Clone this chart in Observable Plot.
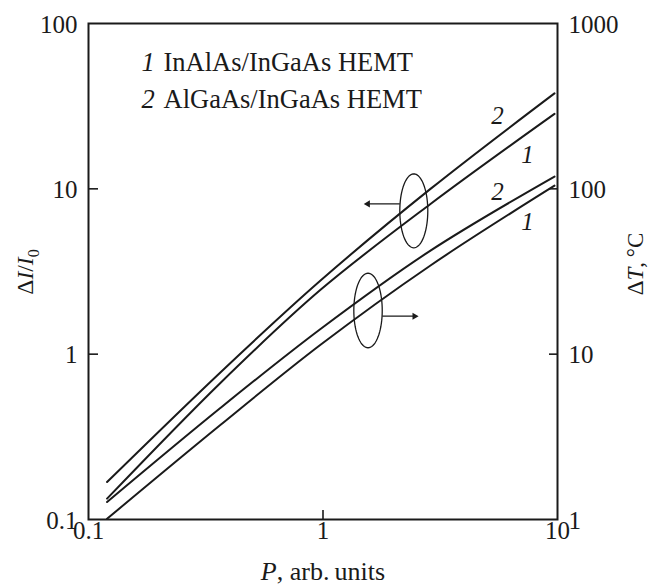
<!DOCTYPE html>
<html><head><meta charset="utf-8">
<script src="https://cdn.jsdelivr.net/npm/d3@7"></script>
<script src="https://cdn.jsdelivr.net/npm/@observablehq/plot@0.6"></script>
<style>body{margin:0;background:#fff}</style>
</head><body><div id="chart"></div>
<script>
// Power (arb. units) at which the curves were read
const power = [0.120, 0.366, 0.976, 2.873, 9.71];
// ΔI/I0 (left axis)
const dI_AlGaAs = [0.1685, 0.778, 2.788, 9.99, 37.8];   // curve 2
const dI_InAlAs = [0.1337, 0.672, 2.45, 8.1, 28.4];     // curve 1
// ΔT, °C (right axis)
const dT_AlGaAs = [1.276, 4.74, 14.2, 42.3, 118.6];     // curve 2
const dT_InAlAs = [1.01, 3.74, 11.4, 34.4, 104.5];      // curve 1

const xTicks = [0.1, 1, 10];
const leftTicks = [0.1, 1, 10, 100];
const rightTicks = [1, 10, 100, 1000];

const legendNums = ["1", "2"];
const legendNames = ["InAlAs/InGaAs HEMT", "AlGaAs/InGaAs HEMT"];

// curve labels: text, P, left-axis value
const curveLabelText = ["2", "1", "2", "1"];
const curveLabelP = [5.55, 7.45, 5.55, 7.45];
const curveLabelY = [27.4, 16.1, 9.53, 6.28];

// ellipse annotations (center in data, radii in decades)
const ellCx = [2.439, 1.556];
const ellCy = [7.36, 1.837];
const ellRx = [0.0597, 0.0606];
const ellRy = [0.2236, 0.2254];
// arrows
const arrowP1 = [2.126, 1.789];
const arrowP2 = [1.553, 2.457];
const arrowY = [8.11, 1.697];
const arrowDir = [-90, 90];

const curves = [];
const addCurve = (name, vals, scale) => vals.forEach((v, i) => curves.push({name, P: power[i], v: v / scale}));
addCurve("A2", dI_AlGaAs, 1);
addCurve("A1", dI_InAlAs, 1);
addCurve("T2", dT_AlGaAs, 10);
addCurve("T1", dT_InAlAs, 10);

const ellPts = [];
ellCx.forEach((cx, k) => {
  for (let i = 0; i <= 72; i++) {
    const t = i / 72 * 2 * Math.PI;
    ellPts.push({k, P: cx * Math.pow(10, ellRx[k] * Math.cos(t)), v: ellCy[k] * Math.pow(10, ellRy[k] * Math.sin(t))});
  }
});
const arrows = arrowY.map((y, i) => ({x1: arrowP1[i], x2: arrowP2[i], y, r: arrowDir[i]}));
const labels = curveLabelText.map((t, i) => ({t, P: curveLabelP[i], v: curveLabelY[i]}));

const font = "'Liberation Serif', 'Times New Roman', serif";
const ink = "#1a1a1a";
const W = 656, H = 586, ML = 88, MR = 99, MT = 23, MB = 67;
const FW = W - ML - MR, FH = H - MT - MB;
const txt = {fontSize: 25, fill: ink, fontFamily: font};

const legendMarks = legendNums.flatMap((n, i) => [
  Plot.text([n], {frameAnchor: "top-left", dx: 53, dy: 29 + i * 36.7, text: d => d, fontStyle: "italic", textAnchor: "start", ...txt, fontSize: 26.5}),
  Plot.text([legendNames[i]], {frameAnchor: "top-left", dx: 75, dy: 29 + i * 36.7, text: d => d, textAnchor: "start", ...txt, fontSize: 26.5})
]);

const plot = Plot.plot({
  width: W, height: H,
  marginLeft: ML, marginRight: MR, marginTop: MT, marginBottom: MB,
  style: {fontFamily: font, background: "#fff", color: ink},
  x: {type: "log", domain: [0.1, 10], axis: null},
  y: {type: "log", domain: [0.1, 100], axis: null},
  marks: [
    Plot.line(curves, {x: "P", y: "v", z: "name", curve: "catmull-rom", stroke: ink, strokeWidth: 2}),
    Plot.line(ellPts, {x: "P", y: "v", z: "k", stroke: ink, strokeWidth: 1.3}),
    Plot.link(arrows, {x1: "x1", x2: "x2", y1: "y", y2: "y", stroke: ink, strokeWidth: 1.3}),
    Plot.dot(arrows, {x: "x2", y: "y", symbol: "triangle", r: 2.6, fill: ink, rotate: "r"}),
    Plot.frame({stroke: ink, strokeWidth: 2}),
    // inward ticks
    Plot.ruleX([1], {x: d => d, insetTop: FH - 9, stroke: ink, strokeWidth: 1.6}),
    Plot.ruleY([1, 10], {y: d => d, insetRight: FW - 10, stroke: ink, strokeWidth: 1.6}),
    Plot.ruleY([1, 10], {y: d => d, insetLeft: FW - 8, stroke: ink, strokeWidth: 1.6}),
    // tick labels
    Plot.text(xTicks, {x: d => d, frameAnchor: "bottom", dy: 19, text: d => String(d), ...txt}),
    Plot.text(leftTicks, {y: d => d, frameAnchor: "left", dx: -11, dy: 1, textAnchor: "end", text: d => String(d), ...txt}),
    Plot.text(rightTicks, {y: d => d / 10, frameAnchor: "right", dx: 11, dy: 1, textAnchor: "start", text: d => String(d), ...txt}),
    ...legendMarks,
    // curve labels
    Plot.text(labels, {x: "P", y: "v", text: "t", fontStyle: "italic", ...txt})
  ]
});

const svg = d3.select(plot);
const lt = svg.append("text").attr("transform", "translate(33,272) rotate(-90)").attr("text-anchor", "middle")
  .attr("font-size", 23.5).attr("font-family", font).attr("fill", ink);
lt.append("tspan").text("Δ");
lt.append("tspan").attr("font-style", "italic").text("I");
lt.append("tspan").text("/");
lt.append("tspan").attr("font-style", "italic").text("I");
lt.append("tspan").attr("font-size", 16).attr("dy", 6).text("0");

const rt = svg.append("text").attr("transform", "translate(643,264) rotate(-90)").attr("text-anchor", "middle")
  .attr("font-size", 23).attr("font-family", font).attr("fill", ink);
rt.append("tspan").text("Δ");
rt.append("tspan").attr("font-style", "italic").text("T");
rt.append("tspan").text(",\u2009°C");

const bt = svg.append("text").attr("transform", "translate(323,580)").attr("text-anchor", "middle")
  .attr("font-size", 26).attr("font-family", font).attr("fill", ink);
bt.append("tspan").attr("font-style", "italic").text("P");
bt.append("tspan").text(", arb.\u2009units");

document.getElementById("chart").appendChild(plot);
</script></body></html>
